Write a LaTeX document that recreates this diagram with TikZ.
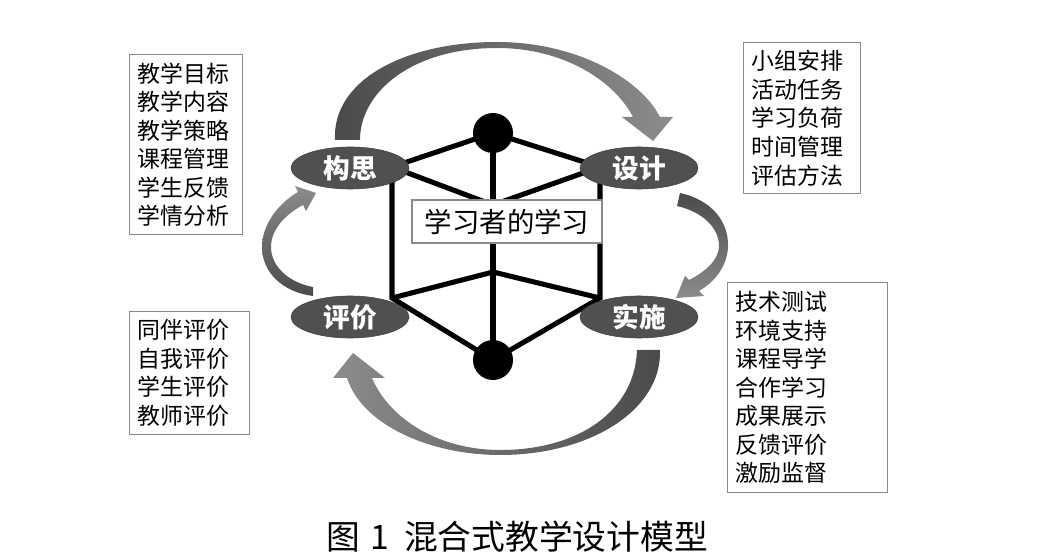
\documentclass[tikz,border=0pt]{standalone}
\usepackage{fontspec}
\usepackage{tikz}
\usetikzlibrary{shapes.geometric, positioning, calc}
\newfontfamily\cjk{Noto Sans CJK SC}
\definecolor{stagegray}{HTML}{505050}
\definecolor{arrowdark}{HTML}{4A4A4A}
\definecolor{arrowlight}{HTML}{8C8C8C}
\definecolor{boxgray}{HTML}{8A8A8A}

\begin{document}
\begin{tikzpicture}[x=0.025cm, y=-0.025cm,
    stage/.style={ellipse, fill=stagegray, draw=stagegray!80!black, minimum width=2.95cm, minimum height=1.05cm, inner sep=0pt, text=white, font=\cjk\bfseries\fontsize{19}{22}\selectfont},
    listbox/.style={draw=boxgray, line width=0.8pt, fill=white, inner sep=0.2cm, align=left, anchor=north west, font=\cjk\fontsize{16.3}{20.3}\selectfont},
    edge/.style={line width=3.6pt},
    vertex/.style={circle, fill=black, minimum size=1cm, inner sep=0pt}]
  \useasboundingbox (0,0) rectangle (1040,556);

  % Cycle arrows between the four stages
  \shade[left color=arrowdark, right color=arrowlight]
    (335,140) .. controls (332,80) and (405,42) .. (497,42)
    .. controls (575,42) and (640,78) .. (660,117)
    -- (673,117) -- (653,141) -- (622,117) -- (633,117)
    .. controls (615,82) and (565,48) .. (497,48)
    .. controls (412,48) and (360,92) .. (360,140) -- cycle;
  \shade[top color=arrowdark, bottom color=arrowlight]
    (680,193) .. controls (712,200) and (729,222) .. (728,247)
    .. controls (727,268) and (713,283) .. (699,291)
    -- (704,296) -- (676,298) -- (685,276) -- (689,280)
    .. controls (705,272) and (719,260) .. (719,246)
    .. controls (719,228) and (703,212) .. (677,206) -- cycle;
  \shade[left color=arrowlight, right color=arrowdark]
    (660,350) .. controls (662,410) and (590,455) .. (500,455)
    .. controls (430,455) and (362,425) .. (347,378)
    -- (333,378) -- (353,353) -- (385,378) -- (372,378)
    .. controls (390,420) and (440,450) .. (500,450)
    .. controls (580,450) and (635,410) .. (637,350) -- cycle;
  \shade[top color=arrowlight, bottom color=arrowdark]
    (313,296) .. controls (282,292) and (262,272) .. (262,247)
    .. controls (262,224) and (279,203) .. (298,192)
    -- (295,186) -- (316,193) -- (306,211) -- (303,205)
    .. controls (286,214) and (271,229) .. (271,247)
    .. controls (271,267) and (290,283) .. (313,287) -- cycle;

  % Learner cube
  \coordinate (ctop) at (493,133);
  \coordinate (cul) at (392,167);
  \coordinate (cur) at (600,167);
  \coordinate (cmidup) at (493,205);
  \coordinate (cll) at (392,298);
  \coordinate (clr) at (600,298);
  \coordinate (cmidlow) at (493,272);
  \coordinate (cbot) at (493,360);
  \draw[edge] (ctop) -- (cbot);
  \draw[edge] (ctop) -- (cul) -- (cll) -- (cbot) -- (clr) -- (cur) -- cycle;
  \draw[edge] (cul) -- (cmidup) -- (cur);
  \draw[edge] (cll) -- (cmidlow) -- (clr);
  \node[vertex] (vtop) at (ctop) {};
  \node[vertex] (vbot) at (cbot) {};

  % Stages
  \node[stage] (idea) at (350,168) {构思};
  \node[stage] (design) at (639,168) {设计};
  \node[stage] (implement) at (639,317) {实施};
  \node[stage] (evaluate) at (350,317) {评价};

  \node[draw=boxgray, fill=white, line width=0.8pt, minimum width=4.75cm, minimum height=1.075cm, inner sep=0pt,
        font=\cjk\fontsize{19.5}{22}\selectfont] (learner) at (507,221.5) {学习者的学习};

  % Contents of each stage
  \node[listbox, text width=2.425cm, minimum height=4.45cm] (ideaitems) at (129,54)
    {教学目标\\教学内容\\教学策略\\课程管理\\学生反馈\\学情分析};
  \node[listbox, text width=2.525cm, minimum height=3.775cm] (designitems) at (743,42)
    {小组安排\\活动任务\\学习负荷\\时间管理\\评估方法};
  \node[listbox, text width=2.6cm, minimum height=3.05cm] (evaluateitems) at (129,311)
    {同伴评价\\自我评价\\学生评价\\教师评价};
  \node[listbox, text width=3.6cm, minimum height=5.25cm] (implementitems) at (727,282)
    {技术测试\\环境支持\\课程导学\\合作学习\\成果展示\\反馈评价\\激励监督};

  \node[font=\cjk\fontsize{24}{28}\selectfont] (caption) at (517,537)
    {图\hspace{0.3em}1\hspace{0.45em}混合式教学设计模型};
\end{tikzpicture}
\end{document}
